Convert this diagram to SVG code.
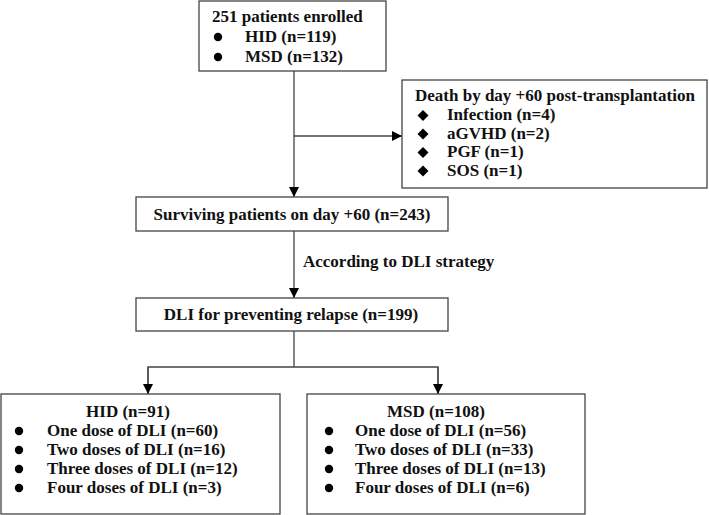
<svg xmlns="http://www.w3.org/2000/svg" width="709" height="515" viewBox="0 0 709 515">
<defs>
<marker id="ah" markerWidth="10" markerHeight="10" refX="10" refY="5" orient="auto" markerUnits="userSpaceOnUse">
<path d="M0,0 L10,5 L0,10 Z" fill="#000"/>
</marker>
<style>
.box{fill:#fff;stroke:#444;stroke-width:1.3}
.t{font-family:"Liberation Serif","Times New Roman",serif;font-weight:bold;font-size:17px;fill:#111}
.ln{fill:none;stroke:#444;stroke-width:1.3}
.dot{fill:#000}
</style>
</defs>
<rect width="709" height="515" fill="#fff"/>
<g id="connectors">
<line class="ln" x1="294" y1="71" x2="294" y2="197" marker-end="url(#ah)"/>
<line class="ln" x1="294" y1="136" x2="402" y2="136" marker-end="url(#ah)"/>
<line class="ln" x1="294" y1="231" x2="294" y2="298" marker-end="url(#ah)"/>
<text class="t" x="303" y="267">According to DLI strategy</text>
<polyline class="ln" points="294,331 294,367"/>
<polyline class="ln" points="148,394 148,367 438,367 438,394"/>
<line class="ln" x1="148" y1="367" x2="148" y2="394" marker-end="url(#ah)"/>
<line class="ln" x1="438" y1="367" x2="438" y2="394" marker-end="url(#ah)"/>
</g>
<g id="enrolled">
<rect class="box" x="199" y="1" width="187" height="70"/>
<text class="t" x="212" y="22">251 patients enrolled</text>
<circle class="dot" cx="218" cy="37" r="4.2"/>
<text class="t" x="245" y="42">HID (n=119)</text>
<circle class="dot" cx="218" cy="57" r="4.2"/>
<text class="t" x="245" y="62">MSD (n=132)</text>
</g>
<g id="death">
<rect class="box" x="402" y="80" width="305" height="108"/>
<text class="t" x="415" y="101">Death by day +60 post-transplantation</text>
<path class="dot" d="M423,110 l5.5,5.5 l-5.5,5.5 l-5.5,-5.5 Z"/>
<text class="t" x="447" y="120">Infection (n=4)</text>
<path class="dot" d="M423,128.5 l5.5,5.5 l-5.5,5.5 l-5.5,-5.5 Z"/>
<text class="t" x="447" y="138.5">aGVHD (n=2)</text>
<path class="dot" d="M423,147 l5.5,5.5 l-5.5,5.5 l-5.5,-5.5 Z"/>
<text class="t" x="447" y="157">PGF (n=1)</text>
<path class="dot" d="M423,165.5 l5.5,5.5 l-5.5,5.5 l-5.5,-5.5 Z"/>
<text class="t" x="447" y="175.5">SOS (n=1)</text>
</g>
<g id="surviving">
<rect class="box" x="136" y="197" width="312" height="34"/>
<text class="t" x="292" y="220" text-anchor="middle">Surviving patients on day +60 (n=243)</text>
</g>
<g id="dli">
<rect class="box" x="136" y="298" width="312" height="33"/>
<text class="t" x="291" y="320" text-anchor="middle">DLI for preventing relapse (n=199)</text>
</g>
<g id="hid">
<rect class="box" x="1" y="394" width="279" height="120"/>
<text class="t" x="128" y="417" text-anchor="middle">HID (n=91)</text>
<circle class="dot" cx="19" cy="431" r="4.2"/>
<text class="t" x="47" y="436">One dose of DLI (n=60)</text>
<circle class="dot" cx="19" cy="450" r="4.2"/>
<text class="t" x="47" y="455">Two doses of DLI (n=16)</text>
<circle class="dot" cx="19" cy="469" r="4.2"/>
<text class="t" x="47" y="474">Three doses of DLI (n=12)</text>
<circle class="dot" cx="19" cy="488" r="4.2"/>
<text class="t" x="47" y="493">Four doses of DLI (n=3)</text>
</g>
<g id="msd">
<rect class="box" x="307" y="394" width="278" height="120"/>
<text class="t" x="436" y="417" text-anchor="middle">MSD (n=108)</text>
<circle class="dot" cx="329" cy="431" r="4.2"/>
<text class="t" x="355" y="436">One dose of DLI (n=56)</text>
<circle class="dot" cx="329" cy="450" r="4.2"/>
<text class="t" x="355" y="455">Two doses of DLI (n=33)</text>
<circle class="dot" cx="329" cy="469" r="4.2"/>
<text class="t" x="355" y="474">Three doses of DLI (n=13)</text>
<circle class="dot" cx="329" cy="488" r="4.2"/>
<text class="t" x="355" y="493">Four doses of DLI (n=6)</text>
</g>
</svg>
